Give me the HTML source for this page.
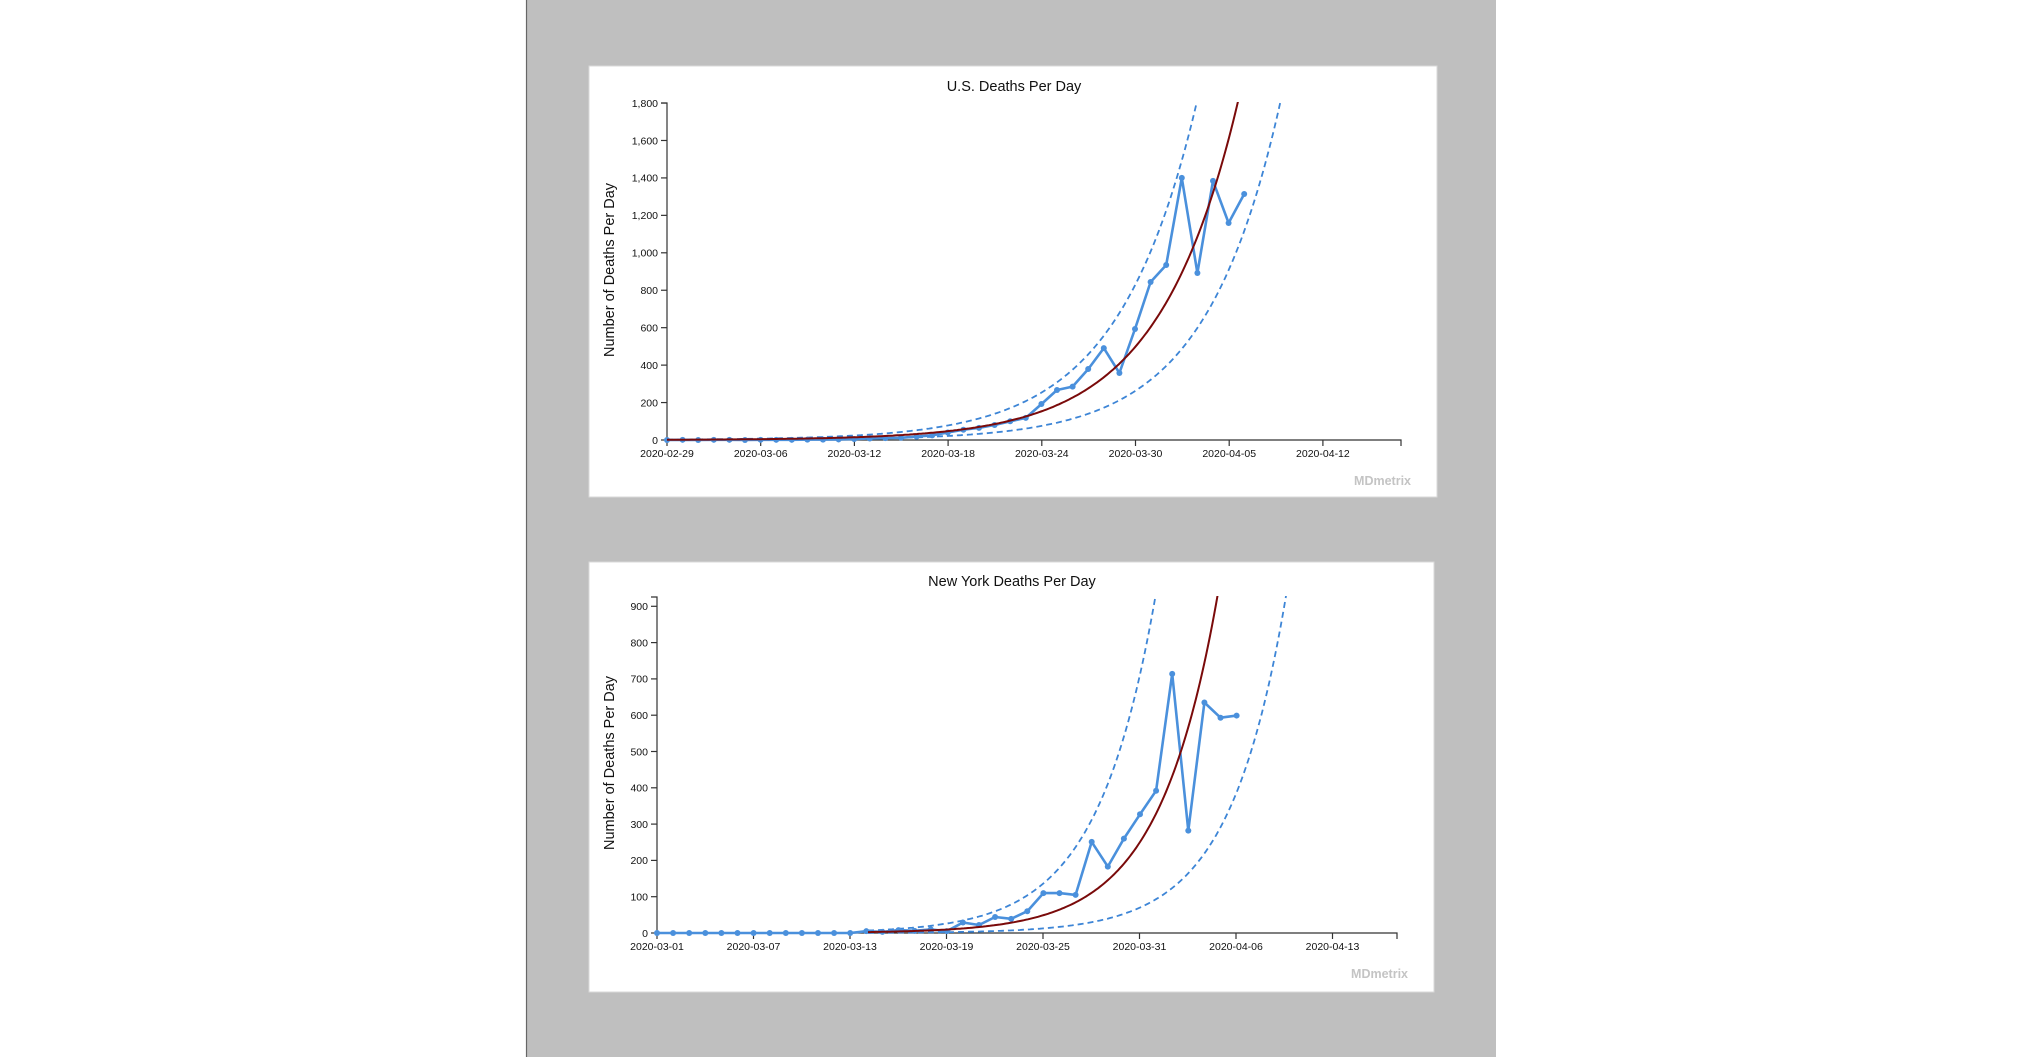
<!DOCTYPE html>
<html><head><meta charset="utf-8">
<style>
html,body{margin:0;padding:0;width:2021px;height:1057px;overflow:hidden;background:#fff;}
svg{display:block;font-family:"Liberation Sans",Arial,sans-serif;}
</style></head>
<body>
<svg id="s" width="2021" height="1057" xmlns="http://www.w3.org/2000/svg">
<rect x="0" y="0" width="2021" height="1057" fill="#fff"/>
<rect x="526" y="0" width="970" height="1057" fill="#bfbfbf"/>
<line x1="526.5" y1="0" x2="526.5" y2="1057" stroke="#666" stroke-width="1.2"/>
<rect x="589" y="66" width="848" height="431" fill="#fff" stroke="#d8d8d8" stroke-width="1"/>
<rect x="589" y="562" width="845" height="430" fill="#fff" stroke="#d8d8d8" stroke-width="1"/>
<defs>
<clipPath id="c1"><rect x="600" y="102" width="830" height="350"/></clipPath>
<clipPath id="c2"><rect x="600" y="596" width="830" height="350"/></clipPath>
</defs>
<text x="1014" y="91" font-size="14.5" text-anchor="middle" fill="#111">U.S. Deaths Per Day</text>
<text x="1012" y="586" font-size="14.5" text-anchor="middle" fill="#111">New York Deaths Per Day</text>
<text transform="translate(614,270) rotate(-90)" font-size="14.5" text-anchor="middle" fill="#111">Number of Deaths Per Day</text>
<text transform="translate(614,763) rotate(-90)" font-size="14.5" text-anchor="middle" fill="#111">Number of Deaths Per Day</text>
<text x="1411" y="485" font-size="12.5" font-weight="bold" text-anchor="end" fill="#c4c4c4">MDmetrix</text>
<text x="1408" y="978" font-size="12.5" font-weight="bold" text-anchor="end" fill="#c4c4c4">MDmetrix</text>
<g id="g1"></g>
<g id="g2"></g>
</svg>
<script>
var NS="http://www.w3.org/2000/svg";
function el(p,t,a,txt){var e=document.createElementNS(NS,t);for(var k in a)e.setAttribute(k,a[k]);if(txt!==undefined)e.textContent=txt;p.appendChild(e);return e;}
function chart(g,o){
  var ax=o.ax,y0=o.y0,sc=o.sc;
  el(g,"path",{d:"M"+(ax-6)+","+o.ytop+"H"+ax+"V"+y0+"H"+o.xend+"V"+(y0+6),fill:"none",stroke:"#333","stroke-width":1.2});
  o.yt.forEach(function(v){var y=y0-v*sc;el(g,"line",{x1:ax-6,y1:y,x2:ax,y2:y,stroke:"#333","stroke-width":1.2});
    el(g,"text",{x:ax-9,y:y+3.8,"font-size":10.5,"text-anchor":"end",fill:"#111"},o.yl(v));});
  o.xt.forEach(function(l,i){var x=o.tx0+o.tdx*i;el(g,"line",{x1:x,y1:y0,x2:x,y2:y0+6,stroke:"#333","stroke-width":1.2});
    el(g,"text",{x:x,y:o.ly,"font-size":10.5,"text-anchor":"middle",fill:"#111"},l);});
  var cg=el(g,"g",{"clip-path":o.clip});
  function curve(f,x1,col,dash,w){var d="";for(var x=x1;x<=1420;x+=2){var y=y0-f(x)*sc;d+=(d?"L":"M")+x+","+y.toFixed(1);if(y<o.ytop-20)break;}
    var a={d:d,fill:"none",stroke:col,"stroke-width":w};if(dash)a["stroke-dasharray"]=dash;el(cg,"path",a);}
  curve(o.up,o.cx,"#3d85d6","6,4",1.8);
  curve(o.lo,o.cx,"#3d85d6","6,4",1.8);
  var d="";o.data.forEach(function(v,i){var x=o.px0+o.pdx*i,y=y0-v*sc;d+=(i?"L":"M")+x.toFixed(1)+","+y.toFixed(1);});
  el(cg,"path",{d:d,fill:"none",stroke:"#4a90dc","stroke-width":2.6,"stroke-linejoin":"round"});
  o.data.forEach(function(v,i){el(cg,"circle",{cx:o.px0+o.pdx*i,cy:y0-v*sc,r:3,fill:"#4a90dc"});});
  curve(o.red,o.cx,"#7a0a0a",null,2);
}
chart(document.getElementById("g1"),{
  ax:667,y0:440,sc:0.1872,ytop:103,xend:1401,clip:"url(#c1)",
  yt:[0,200,400,600,800,1000,1200,1400,1600,1800],yl:function(v){return v>=1000?Math.floor(v/1000)+","+String(v%1000).padStart(3,"0"):String(v);},
  xt:["2020-02-29","2020-03-06","2020-03-12","2020-03-18","2020-03-24","2020-03-30","2020-04-05","2020-04-12"],
  tx0:667,tdx:93.7,ly:457,px0:667,pdx:15.6,cx:667,
  data:[0,1,0,1,1,0,1,1,1,2,2,3,5,8,10,12,18,25,40,55,65,80,100,118,192,267,285,379,491,358,593,844,935,1400,892,1384,1159,1314],
  red:function(x){return 91*Math.exp(0.01256*(x-1000));},
  up:function(x){return 150*Math.exp(0.01264*(x-1000));},
  lo:function(x){return 620*Math.exp(0.0133*(x-1200));}
});
chart(document.getElementById("g2"),{
  ax:657,y0:933,sc:0.363,ytop:597,xend:1397,clip:"url(#c2)",
  yt:[0,100,200,300,400,500,600,700,800,900],yl:function(v){return String(v);},
  xt:["2020-03-01","2020-03-07","2020-03-13","2020-03-19","2020-03-25","2020-03-31","2020-04-06","2020-04-13"],
  tx0:657,tdx:96.5,ly:950,px0:657,pdx:16.1,cx:868,
  data:[0,0,0,0,0,0,0,0,0,0,0,0,0,5,3,8,6,10,5,29,22,44,39,60,110,110,105,251,183,260,327,392,714,282,635,593,599],
  red:function(x){return 73*Math.exp(0.0169*(x-1067));},
  up:function(x){return 65*Math.exp(0.0171*(x-1000));},
  lo:function(x){return 113*Math.exp(0.0177*(x-1167));}
});
</script>
</body></html>
